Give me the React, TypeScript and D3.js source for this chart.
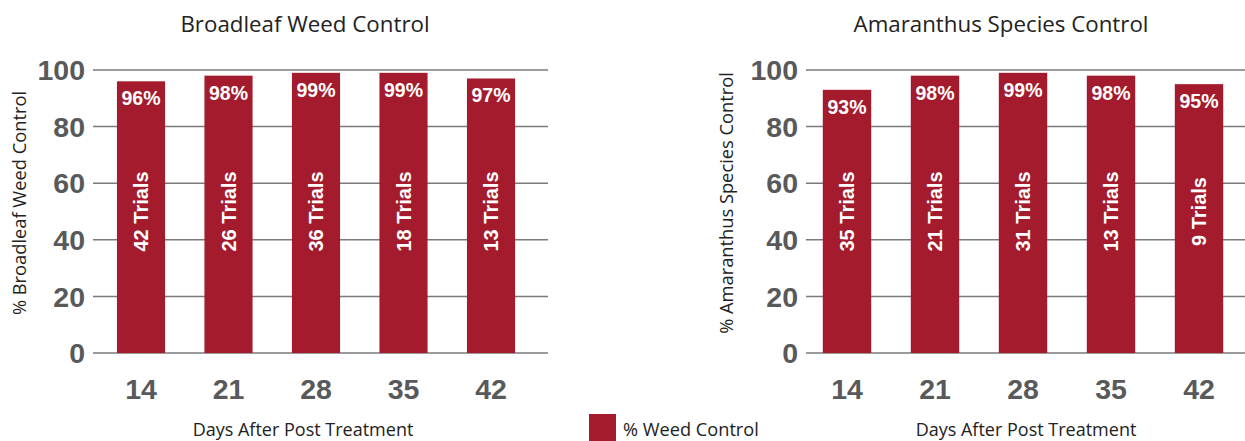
import React from "react";
import * as d3 from "d3";

const days = ["14", "21", "28", "35", "42"];
const broadleafValues = [96, 98, 99, 99, 97];
const broadleafTrials = [42, 26, 36, 18, 13];
const amaranthusValues = [93, 98, 99, 98, 95];
const amaranthusTrials = [35, 21, 31, 13, 9];
const yTicks = [0, 20, 40, 60, 80, 100];

const BAR = "#a31b2d";
const GRID = "#7a7a7a";
const TICK = "#58595b";
const BOLD = "'Liberation Sans', Arial, Helvetica, sans-serif";
const LIGHT = "'Open Sans', 'Noto Sans', sans-serif";

type PanelProps = {
  title: string;
  yTitle: string;
  values: number[];
  trials: number[];
  gridX0: number;
  gridX1: number;
  bandX0: number;
  bandX1: number;
  titleX: number;
  xTitleX: number;
  yTitleX: number;
};

function Panel(p: PanelProps) {
  const y = d3.scaleLinear().domain([0, 100]).range([353, 70]);
  const x = d3
    .scaleBand<string>()
    .domain(days)
    .range([p.bandX0, p.bandX1])
    .paddingInner(0.45)
    .paddingOuter(0.225);
  return (
    <g>
      <text x={p.titleX} y={32} textAnchor="middle" fontFamily={LIGHT} fontSize={22.3} fill="#222">
        {p.title}
      </text>
      {yTicks.map((t) => (
        <g key={t}>
          <line x1={p.gridX0} x2={p.gridX1} y1={y(t)} y2={y(t)} stroke={GRID} strokeWidth={1.5} />
          <text
            x={p.gridX0 - 8}
            y={y(t)}
            dy="0.36em"
            textAnchor="end"
            fontFamily={BOLD}
            fontWeight="bold"
            fontSize={28.5}
            fill={TICK}
          >
            {t}
          </text>
        </g>
      ))}
      <text
        transform={`translate(${p.yTitleX},${y(53)}) rotate(-90)`}
        textAnchor="middle"
        fontFamily={LIGHT}
        fontSize={18.3}
        fill="#222"
      >
        {p.yTitle}
      </text>
      {days.map((d, i) => {
        const bx = x(d) as number;
        const bw = x.bandwidth();
        const cx = bx + bw / 2;
        return (
          <g key={d}>
            <rect x={bx} y={y(p.values[i])} width={bw} height={y(0) - y(p.values[i])} fill={BAR} />
            <text
              x={cx}
              y={y(p.values[i]) + 24}
              textAnchor="middle"
              fontFamily={BOLD}
              fontWeight="bold"
              fontSize={19.5}
              fill="#fff"
            >
              {p.values[i]}%
            </text>
            <text
              transform={`translate(${cx},${y(50)}) rotate(-90)`}
              dy="0.36em"
              textAnchor="middle"
              fontFamily={BOLD}
              fontWeight="bold"
              fontSize={20}
              fill="#fff"
            >
              {p.trials[i]} Trials
            </text>
            <text
              x={cx}
              y={399}
              textAnchor="middle"
              fontFamily={BOLD}
              fontWeight="bold"
              fontSize={28.5}
              fill={TICK}
            >
              {d}
            </text>
          </g>
        );
      })}
      <text x={p.xTitleX} y={436} textAnchor="middle" fontFamily={LIGHT} fontSize={18} fill="#222">
        Days After Post Treatment
      </text>
    </g>
  );
}

export default function App() {
  return (
    <div style={{ position: "absolute", left: 0, top: 0 }}>
      <svg width={1245} height={441} style={{ display: "block", background: "#fff" }}>
        <Panel
          title="Broadleaf Weed Control"
          yTitle="% Broadleaf Weed Control"
          values={broadleafValues}
          trials={broadleafTrials}
          gridX0={93}
          gridX1={548}
          bandX0={97.25}
          bandX1={534.75}
          titleX={305}
          xTitleX={303}
          yTitleX={26}
        />
        <Panel
          title="Amaranthus Species Control"
          yTitle="% Amaranthus Species Control"
          values={amaranthusValues}
          trials={amaranthusTrials}
          gridX0={806}
          gridX1={1245}
          bandX0={803}
          bandX1={1243}
          titleX={1001}
          xTitleX={1026}
          yTitleX={733}
        />
        <rect x={589} y={414} width={27} height={27} fill={BAR} />
        <text x={623} y={436} fontFamily={LIGHT} fontSize={18.2} fill="#222">
          % Weed Control
        </text>
      </svg>
    </div>
  );
}
